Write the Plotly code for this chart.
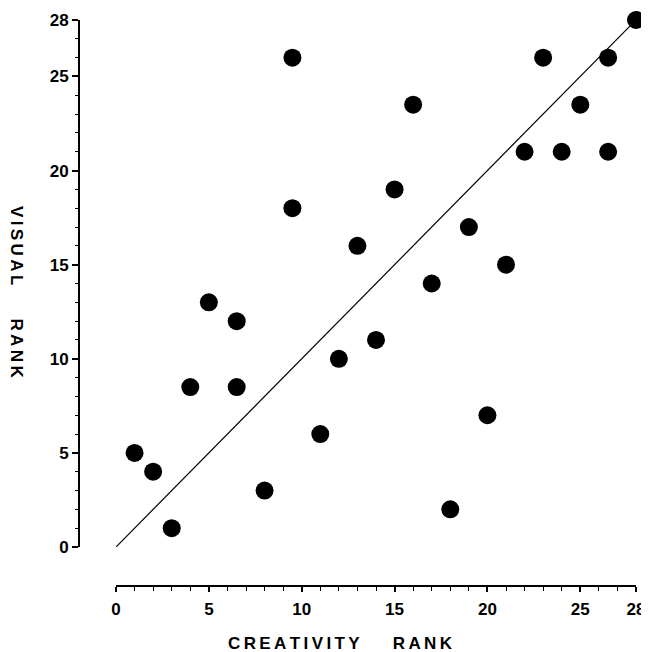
import plotly.graph_objects as go

# Data (ranks, ties shown as half ranks)
creativity_rank = [1, 2, 3, 4, 5, 6.5, 6.5, 8, 9.5, 9.5, 11, 12, 13, 14,
                   15, 16, 17, 18, 19, 20, 21, 22, 23, 24, 25, 26.5, 26.5, 28]
visual_rank = [5, 4, 1, 8.5, 13, 12, 8.5, 3, 26, 18, 6, 10, 16, 11,
               19, 23.5, 14, 2, 17, 7, 15, 21, 26, 21, 23.5, 26, 21, 28]
fit_x = [0, 28]
fit_y = [0, 28]
x_ticks = [0, 5, 10, 15, 20, 25, 28]
y_ticks = [0, 5, 10, 15, 20, 25, 28]
unit_ticks = list(range(0, 29))
x_title = "CREATIVITY RANK"
y_title = "VISUAL RANK"

# The page body has an 8px margin, so the figure is drawn 8px in from the corner
OFF = 8
W, H = 649 - OFF, 652 - OFF
ML, MR, MT = 79 - OFF, 13, 20 - OFF
MB = H - (586 - OFF)
PW = W - ML - MR
PH = H - MT - MB

def spaced(title):
    words = title.split(" ")
    return ("\u00a0" * 7).join("\u2009".join(w) for w in words)

tick_font = dict(family="Liberation Sans, Arial, sans-serif", size=17, color="black", weight="bold")
title_font = dict(family="Liberation Sans, Arial, sans-serif", size=17, color="black", weight="bold")

fig = go.Figure()
fig.add_trace(go.Scatter(x=fit_x, y=fit_y, mode="lines",
                         line=dict(color="black", width=1.2), hoverinfo="skip",
                         cliponaxis=False, showlegend=False))
fig.add_trace(go.Scatter(x=creativity_rank, y=visual_rank, mode="markers",
                         marker=dict(color="black", size=18, line=dict(width=0)),
                         cliponaxis=False, showlegend=False))

fig.update_layout(
    width=W, height=H,
    margin=dict(l=ML, r=MR, t=MT, b=MB, autoexpand=False),
    paper_bgcolor="white", plot_bgcolor="white",
    xaxis=dict(
        domain=[37 / PW, 1], range=[0, 28], anchor="free", position=0,
        showgrid=False, zeroline=False, showline=True, linecolor="black", linewidth=2,
        tickmode="array", tickvals=x_ticks, ticks="outside", ticklen=5, tickwidth=1.5,
        tickcolor="black", tickfont=tick_font, automargin=False, ticklabelstandoff=3,
        minor=dict(tickmode="array", tickvals=unit_ticks, ticks="outside",
                   ticklen=4, tickwidth=1.2, tickcolor="black", showgrid=False),
    ),
    yaxis=dict(
        domain=[39 / PH, 1], range=[0, 28], anchor="free", position=0,
        showgrid=False, zeroline=False, showline=True, linecolor="black", linewidth=2,
        tickmode="array", tickvals=y_ticks, ticks="outside", ticklen=6, tickwidth=1.5,
        tickcolor="black", tickfont=tick_font, automargin=False,
        minor=dict(tickmode="array", tickvals=unit_ticks, ticks="outside",
                   ticklen=3, tickwidth=1.2, tickcolor="black", showgrid=False),
    ),
    annotations=[
        dict(text=spaced(x_title), xref="paper", yref="paper",
             x=(340.5 - OFF - ML) / PW, y=(H - MB - (643 - OFF)) / PH,
             xanchor="center", yanchor="middle", showarrow=False, font=title_font),
        dict(text=spaced(y_title), xref="paper", yref="paper",
             x=(16.5 - OFF - ML) / PW, y=(H - MB - (291.5 - OFF)) / PH, textangle=90,
             xanchor="center", yanchor="middle", showarrow=False, font=title_font),
    ],
)

fig.write_html("out.html")
